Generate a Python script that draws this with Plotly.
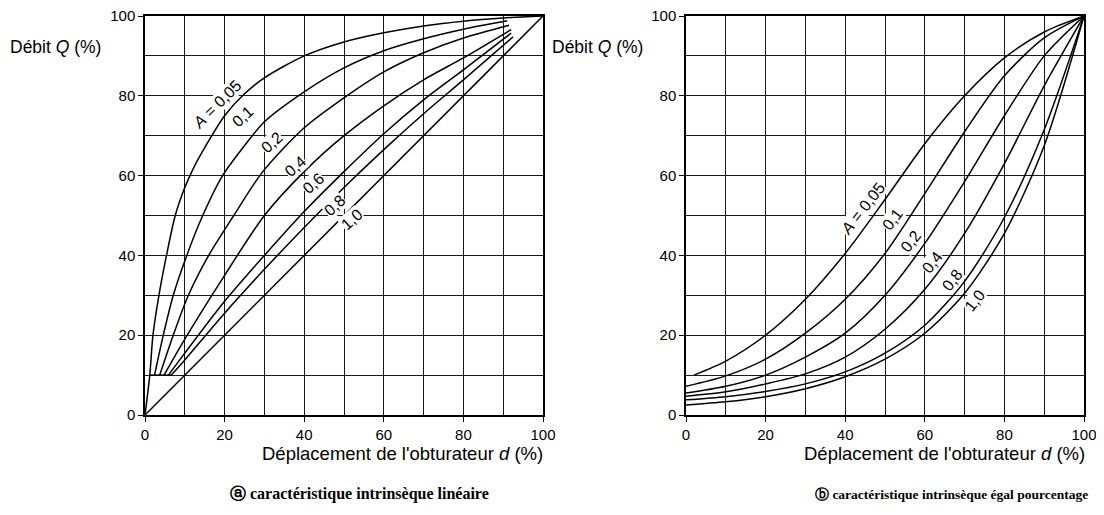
import plotly.graph_objects as go

# ---------------- data ----------------
# (a) linear intrinsic characteristic, one series per authority A
lin_A = ["0,05", "0,1", "0,2", "0,4", "0,6", "0,8", "1,0"]
lin_d_005 = [0, 1.2, 2.0, 3.5, 5.4, 7.6, 10, 12, 15, 20, 25, 30, 40, 50, 60, 70, 80, 90, 100]
lin_q_005 = [0, 10, 20, 30, 40, 50, 57, 61.5, 67, 75, 80.5, 84.5, 90, 93.5, 95.8, 97.5, 98.7, 99.5, 100]
lin_d_01 = [2.4, 4.6, 7.1, 10.5, 14.5, 19.5, 25, 30, 40, 50, 60, 70, 80, 91]
lin_q_01 = [10, 20, 30, 40, 50, 60, 67.5, 73.5, 81, 87, 91.3, 94.3, 96.7, 98.8]
lin_d_02 = [3.7, 7.1, 10.9, 16, 22.3, 29.6, 40, 50, 60, 70, 80, 91.5]
lin_q_02 = [10, 20, 30, 40, 50, 61, 72, 79.5, 86, 90.8, 94.5, 97.7]
lin_d_04 = [4.8, 10, 20, 30, 40, 50, 60, 70, 80, 92]
lin_q_04 = [10, 19, 35, 50, 61, 70, 77.5, 84, 89.5, 96.6]
lin_d_06 = [5.9, 10, 20, 30, 40, 50, 60, 70, 80, 92]
lin_q_06 = [10, 15.5, 28.5, 40, 51, 61, 70.5, 79, 86.5, 95.7]
lin_d_08 = [6.6, 10, 20, 30, 40, 50, 60, 70, 80, 92.5]
lin_q_08 = [10, 13.8, 25.5, 36.5, 47, 57, 66.5, 75.5, 84, 94.8]
lin_d_10 = [0, 100]
lin_q_10 = [0, 100]

# (b) equal-percentage intrinsic characteristic
eq_A = ["0,05", "0,1", "0,2", "0,4", "0,8", "1,0"]
eq_d = [0, 10, 20, 30, 40, 50, 60, 70, 80, 90, 100]
eq_d_005 = [2, 10, 20, 30, 40, 50, 60, 70, 80, 90, 100]
eq_q_005 = [10, 13.5, 20, 29, 40.5, 54, 68, 80, 89.5, 96, 100]
eq_q_01 = [7.2, 9.8, 14, 20.5, 29, 40.5, 55.5, 71, 85, 94.5, 100]
eq_q_02 = [5.5, 7.2, 10, 14.5, 20.5, 30, 43, 58.5, 75, 90, 100]
eq_q_04 = [4.7, 5.8, 7.8, 10.3, 14.5, 21.5, 31.5, 45.5, 63, 82.5, 100]
eq_q_08 = [3.8, 4.6, 5.9, 7.8, 10.8, 15.5, 22.5, 33.5, 49.5, 71.5, 100]
eq_q_10 = [2.5, 3.3, 4.6, 6.6, 9.6, 14, 20.5, 30.5, 45.5, 67.5, 100]

tick_vals = [0, 20, 40, 60, 80, 100]
tick_text = ["0", "20", "40", "60", "80", "100"]

# label positions (d, Q) for the A values
lin_lab_d = [18.1, 24.6, 31.9, 37.7, 42.2, 47.7, 52.0]
lin_lab_q = [77.7, 74.7, 68.2, 62.4, 58.1, 52.4, 48.9]
eq_lab_d = [44.4, 51.8, 56.5, 61.8, 66.8, 72.6]
eq_lab_q = [51.8, 49.1, 43.4, 38.3, 33.8, 28.6]

# ---------------- figure ----------------
SANS = "Liberation Sans, Arial, sans-serif"
SERIF = "Liberation Serif, Times New Roman, serif"
fig = go.Figure()

lin_series = [(lin_d_005, lin_q_005), (lin_d_01, lin_q_01), (lin_d_02, lin_q_02),
              (lin_d_04, lin_q_04), (lin_d_06, lin_q_06), (lin_d_08, lin_q_08),
              (lin_d_10, lin_q_10)]
for name, (d, q) in zip(lin_A, lin_series):
    fig.add_trace(go.Scatter(x=d, y=q, mode="lines", name="A=" + name,
                             line=dict(color="black", width=1.5, shape="spline", smoothing=0.8),
                             xaxis="x", yaxis="y", showlegend=False, hoverinfo="skip"))
# short bar joining the starting points of the curves at Q = 10
starts_d = [lin_series[0][0][1]] + [s[0][0] for s in lin_series[1:6]]
starts_q = [lin_series[0][1][1]] + [s[1][0] for s in lin_series[1:6]]
fig.add_trace(go.Scatter(x=starts_d, y=starts_q, mode="lines",
                         line=dict(color="black", width=1.5),
                         xaxis="x", yaxis="y", showlegend=False, hoverinfo="skip"))

eq_series = [(eq_d_005, eq_q_005), (eq_d, eq_q_01), (eq_d, eq_q_02),
             (eq_d, eq_q_04), (eq_d, eq_q_08), (eq_d, eq_q_10)]
for name, (d, q) in zip(eq_A, eq_series):
    fig.add_trace(go.Scatter(x=d, y=q, mode="lines", name="A=" + name,
                             line=dict(color="black", width=1.5, shape="spline", smoothing=0.8),
                             xaxis="x2", yaxis="y2", showlegend=False, hoverinfo="skip"))

W, H = 1104, 515
OFF = 8  # page body margin of the browser
def px_x(p):
    return (p - OFF) / W
def px_y(p):
    return 1 - (p - OFF) / H

axis_common = dict(
    range=[0, 100], tickmode="array", tickvals=tick_vals, ticktext=tick_text,
    showgrid=True, gridcolor="#1a1a1a", gridwidth=1,
    minor=dict(dtick=10, showgrid=True, gridcolor="#1a1a1a", gridwidth=1),
    showline=True, linecolor="black", linewidth=1.5, mirror=True,
    ticks="outside", ticklen=5, tickcolor="black", tickwidth=1.2,
    zeroline=False, fixedrange=True, ticklabeloverflow="allow",
    tickfont=dict(family=SANS, size=15, color="black"),
)
ydom = [px_y(415), px_y(16)]
fig.update_layout(
    width=W, height=H, margin=dict(l=0, r=0, t=0, b=0, autoexpand=False),
    paper_bgcolor="white", plot_bgcolor="white",
    xaxis=dict(domain=[px_x(145), px_x(543)], anchor="y", **axis_common),
    yaxis=dict(domain=ydom, anchor="x", **axis_common),
    xaxis2=dict(domain=[px_x(686), px_x(1084)], anchor="y2", **axis_common),
    yaxis2=dict(domain=ydom, anchor="x2", **axis_common),
)

ann = []
# A labels
for i, (t, d, q) in enumerate(zip(lin_A, lin_lab_d, lin_lab_q)):
    txt = "<i>A</i> = " + t if i == 0 else t
    ann.append(dict(x=d, y=q, xref="x", yref="y", text=txt, showarrow=False,
                    textangle=-45 if i == 0 else -42, bgcolor="white", borderpad=0,
                    font=dict(family=SANS, size=16, color="black")))
for i, (t, d, q) in enumerate(zip(eq_A, eq_lab_d, eq_lab_q)):
    txt = "<i>A</i> = " + t if i == 0 else t
    ann.append(dict(x=d, y=q, xref="x2", yref="y2", text=txt, showarrow=False,
                    textangle=-52, bgcolor="white", borderpad=0,
                    font=dict(family=SANS, size=16, color="black")))

# axis titles
for x0 in (8, 550):
    ann.append(dict(x=px_x(x0), y=px_y(47), xref="paper", yref="paper", xanchor="left",
                    yanchor="middle", text="Débit <i>Q</i> (%)", showarrow=False,
                    font=dict(family=SANS, size=17.5, color="black")))
for x1 in (545, 1087):
    ann.append(dict(x=px_x(x1), y=px_y(453), xref="paper", yref="paper", xanchor="right",
                    yanchor="middle", text="Déplacement de l'obturateur <i>d</i> (%)",
                    showarrow=False, font=dict(family=SANS, size=18.5, color="black")))

# captions
ann.append(dict(x=px_x(360), y=px_y(494), xref="paper", yref="paper", xanchor="center",
                yanchor="middle", text="<b>ⓐ caractéristique intrinsèque linéaire</b>",
                showarrow=False, font=dict(family=SERIF, size=16, color="black")))
ann.append(dict(x=px_x(951), y=px_y(494), xref="paper", yref="paper", xanchor="center",
                yanchor="middle", text="<b>ⓑ caractéristique intrinsèque égal pourcentage</b>",
                showarrow=False, font=dict(family=SERIF, size=13.5, color="black")))
fig.update_layout(annotations=ann)

fig.write_html("out.html")
